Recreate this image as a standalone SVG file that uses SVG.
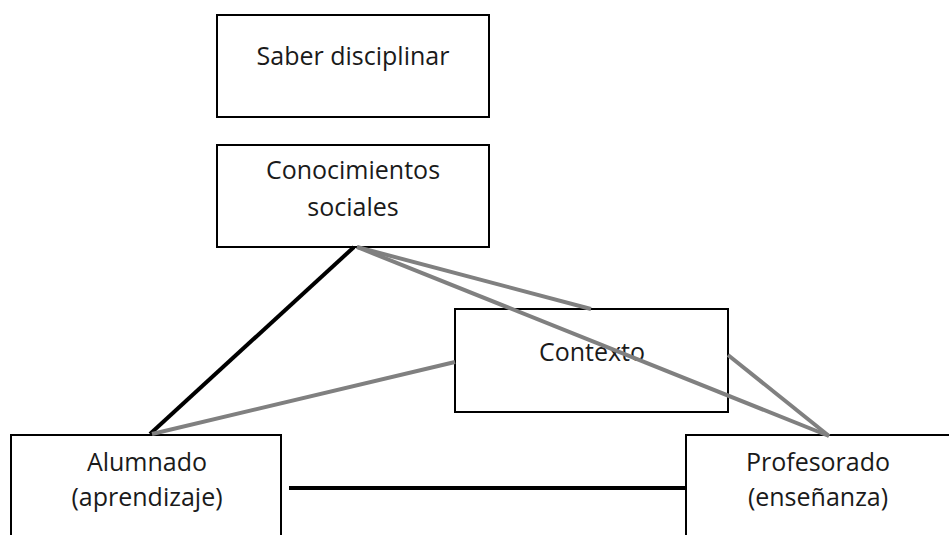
<svg xmlns="http://www.w3.org/2000/svg" width="949" height="535" viewBox="0 0 949 535">
<style>
.box{fill:#fff;stroke:#000;stroke-width:2}
.t{font-family:"Open Sans","Liberation Sans",sans-serif;font-size:25px;fill:#1a1a1a;text-anchor:middle}
.k{stroke:#000;stroke-width:4;fill:none}
.g{stroke:#808080;stroke-width:4;fill:none}
</style>
<rect width="949" height="535" fill="#fff"/>
<g id="saber"><rect class="box" x="217" y="15" width="272" height="102"/><text class="t" x="353" y="65">Saber disciplinar</text></g>
<g id="conocimientos"><rect class="box" x="217" y="145" width="272" height="102"/><text class="t" x="353" y="179">Conocimientos</text><text class="t" x="353" y="216">sociales</text></g>
<g id="contexto"><rect class="box" x="455" y="309" width="273" height="103"/><text class="t" x="592" y="361">Contexto</text></g>
<g id="alumnado"><rect class="box" x="11" y="435" width="270" height="110"/><text class="t" x="147" y="471">Alumnado</text><text class="t" x="147" y="506">(aprendizaje)</text></g>
<g id="profesorado"><rect class="box" x="686" y="435" width="280" height="110"/><text class="t" x="818" y="471">Profesorado</text><text class="t" x="818" y="506">(enseñanza)</text></g>
<g id="connectors">
<line class="k" x1="354" y1="247" x2="150" y2="434"/>
<line class="g" x1="357" y1="247" x2="591" y2="309"/>
<line class="g" x1="357" y1="247" x2="829" y2="436"/>
<line class="g" x1="152" y1="434" x2="455" y2="362"/>
<line class="g" x1="728" y1="355" x2="829" y2="436"/>
<line class="k" x1="289" y1="488" x2="686" y2="488"/>
</g>
</svg>
